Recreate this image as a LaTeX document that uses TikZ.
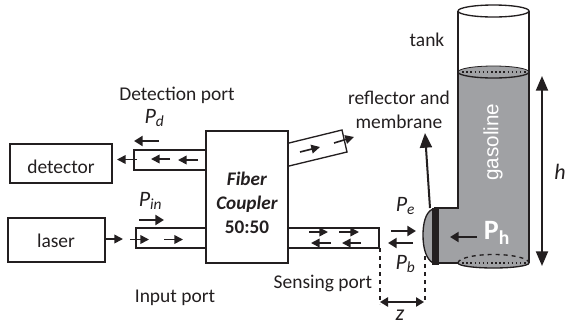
\documentclass[tikz,border=0pt]{standalone}
\usepackage{fontspec}
\setmainfont{Carlito}
\newfontfamily\arialf{Liberation Sans}
\usetikzlibrary{arrows.meta}
\definecolor{ink}{HTML}{231F20}
\definecolor{gas}{HTML}{A0A1A4}
\newcommand{\PP}[1]{P\textsubscript{#1}}
\tikzset{
 boxa/.style={draw=ink,line width=1.5pt,fill=white},
 fib/.style={draw=ink,line width=1pt},
 sa/.style={draw=ink,line width=1.2pt,-{Triangle[length=6.5pt,width=6.5pt]}},
 ba/.style={draw=ink,line width=2pt,-{Triangle[length=6.5pt,width=7.5pt]}},
 la/.style={draw=ink,line width=1.5pt,-{Triangle[length=11pt,width=9pt]}},
 lab/.style={text=ink,font=\fontsize{14.6}{18}\selectfont,inner sep=0pt,align=center},
 ital/.style={text=ink,font=\fontsize{16.5}{18}\selectfont\itshape,inner sep=0pt},
}
\begin{document}
\begin{tikzpicture}[x=0.75pt,y=-0.75pt]
\useasboundingbox (0,0) rectangle (565,326);
% tank
\fill[gas] (458,72) -- (458,208) -- (435,208) -- (435,263) -- (458,263) arc[start angle=180,end angle=0,x radius=35.5,y radius=5] -- (529,72) arc[start angle=0,end angle=180,x radius=35.5,y radius=-6] -- cycle;
\draw[ink,line width=1pt] (458,72) arc[start angle=180,end angle=0,x radius=35.5,y radius=6];
\draw[ink,line width=0.6pt] (458,72) arc[start angle=180,end angle=360,x radius=35.5,y radius=6];
\draw[ink,line width=1.1pt,dotted] (458,72) -- (529,72);
\draw[ink,line width=1pt] (458,11) arc[start angle=180,end angle=-180,x radius=35.5,y radius=6];
\draw[ink,line width=1pt] (458,11) -- (458,208) -- (434,208);
\draw[ink,line width=1pt] (529,11) -- (529,263);
\draw[ink,line width=1pt] (458,263) arc[start angle=180,end angle=0,x radius=35.5,y radius=5];
\draw[ink,line width=1pt,dashed] (458,263) arc[start angle=180,end angle=360,x radius=35.5,y radius=8.5];
\draw[ink,line width=1.1pt,dotted] (458,263) -- (529,263);
\draw[ink,line width=1pt] (435,263) -- (458,263);
% dome + plate
\draw[ink,line width=1pt,fill=gas] (433,209) .. controls (425,212) and (423,225) .. (423,235) .. controls (423,248) and (426,259) .. (433,263) -- cycle;
\fill[ink] (432,208) rectangle (439,265);
% fibres and boxes
\path[boxa] (10,144) rectangle (112,183);
\node[lab] (det) at (61,167) {detector};
\path[boxa] (8,218) rectangle (105,262);
\node[lab] (las) at (56,241) {laser};
\path[boxa] (206,131) rectangle (288,263);
\node[text=ink,inner sep=0pt,align=center,font=\fontsize{14.4}{18}\selectfont\bfseries] (coup) at (247,203) {\textit{Fiber}\\\textit{Coupler}\\50:50};
\draw[fib] (206,150) -- (134,150) -- (134,170) -- (206,170);
\draw[fib] (206,228) -- (136,228) -- (136,248) -- (206,248);
\draw[fib] (288,228) -- (379,228) -- (379,248) -- (288,248);
\draw[fib] (289,143) -- (342,130) -- (347,152) -- (289,166);
% detection arrows
\draw[sa] (198,160) -- (178,160);
\draw[sa] (170,159) -- (151,159);
\draw[sa] (137,159.5) -- (117,159.5);
\draw[ba] (159,141) -- (134,141);
% input arrows
\draw[sa] (106,239) -- (123,239);
\draw[sa] (130,239.5) -- (149,239.5);
\draw[sa] (164,239.5) -- (183,239.5);
\draw[ba] (139,220) -- (164,220);
% sensing arrows
\draw[sa] (309,232) -- (328,232);
\draw[sa] (339,232) -- (359,232);
\draw[sa] (331,243) -- (311,243);
\draw[sa] (361,243) -- (342,243);
\draw[ba] (391,231) -- (416,231);
\draw[ba] (413,243) -- (388,243);
\draw[sa] (300,152) -- (320,147);
\draw[sa] (334,143) -- (354,137);
% tank arrows
\draw[ba] (477,237) -- (450,237);
\draw[la] (430,208) -- (425,133);
\draw[la] (542,170) -- (542,76);
\draw[la] (542,170) -- (542,266);
% z
\draw[ink,line width=1pt,dashed] (380,248) -- (380,304);
\draw[ink,line width=1pt,dashed] (425,256) -- (425,301);
\draw[ink,line width=1.2pt,{Triangle[length=6pt,width=7pt]}-{Triangle[length=6pt,width=7pt]}] (380,302) -- (424,302);
% labels
\node[lab] (dp) at (177,95) {Detection port};
\node[ital] (pd) at (154.5,118) {\PP{d}};
\node[ital] (pin) at (150.5,201) {\PP{in}};
\node[ital] (pe) at (405.5,206) {\PP{e}};
\node[ital] (pb) at (405.5,264) {\PP{b}};
\node[lab] (ip) at (175,298) {Input port};
\node[lab] (sp) at (323,283) {Sensing port};
\node[lab] (tk) at (427,40) {tank};
\node[lab] (rf) at (399,110) {reflector and\\membrane};
\node[text=white,rotate=90,inner sep=0pt,font=\arialf\fontsize{15.5}{17}\selectfont] (gs) at (493,142) {gasoline};
\node[text=white,inner sep=0pt,font=\bfseries\fontsize{21}{22}\selectfont] (ph) at (497,233) {P\textsubscript{h}};
\node[ital] (h) at (560,172) {h};
\node[ital] (z) at (400,315) {z};
\end{tikzpicture}
\end{document}
